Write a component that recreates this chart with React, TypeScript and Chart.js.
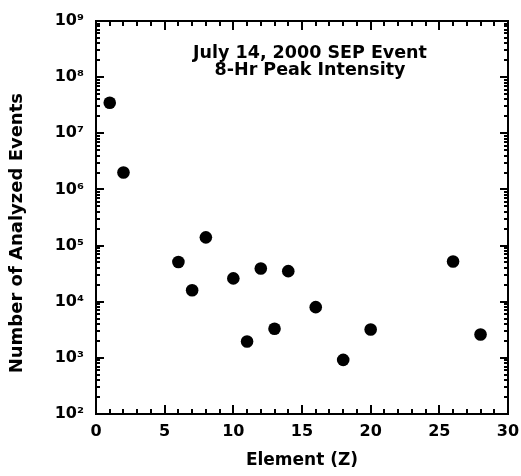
import React, { useEffect, useRef } from "react";
import { Chart, registerables } from "chart.js";

Chart.register(...registerables);

// ---- Data ----
const elementZ = [1, 2, 6, 7, 8, 10, 11, 12, 13, 14, 16, 18, 20, 26, 28];
const analyzedEvents = [
  3.5e7, 2.0e6, 5.1e4, 1.6e4, 1.4e5, 2.6e4, 1.95e3, 3.9e4, 3.3e3, 3.5e4,
  8.0e3, 9.2e2, 3.2e3, 5.2e4, 2.6e3,
];
const yDecadeExponents = [2, 3, 4, 5, 6, 7, 8, 9];
const xMajorTicks = [0, 5, 10, 15, 20, 25, 30];
const titleLines = ["July 14, 2000 SEP Event", "8-Hr Peak Intensity"];
const xTitle = "Element (Z)";
const yTitle = "Number of Analyzed Events";

const FONT = '"DejaVu Sans", "Liberation Sans", Arial, sans-serif';
const SUP: Record<string, string> = {
  "0": "\u2070", "1": "\u00B9", "2": "\u00B2", "3": "\u00B3", "4": "\u2074",
  "5": "\u2075", "6": "\u2076", "7": "\u2077", "8": "\u2078", "9": "\u2079", "-": "\u207B",
};
const supText = (n: number) => String(n).split("").map((c) => SUP[c] || c).join("");

const framePlugin = {
  id: "frameAndTicks",
  afterDraw(chart: any) {
    const { ctx, chartArea: a, scales } = chart;
    const xs = scales.x;
    const ys = scales.y;
    ctx.save();
    ctx.strokeStyle = "#000";
    ctx.lineWidth = 2;
    ctx.strokeRect(a.left, a.top, a.right - a.left, a.bottom - a.top);
    ctx.beginPath();
    for (let v = xs.min; v <= xs.max; v++) {
      const px = Math.round(xs.getPixelForValue(v));
      const len = xMajorTicks.includes(v) ? 9 : 5;
      ctx.moveTo(px, a.bottom);
      ctx.lineTo(px, a.bottom - len);
      ctx.moveTo(px, a.top);
      ctx.lineTo(px, a.top + len);
    }
    for (const e of yDecadeExponents) {
      for (let m = 1; m <= 9; m++) {
        const val = m * Math.pow(10, e);
        if (val > ys.max + 1) break;
        const py = Math.round(ys.getPixelForValue(val));
        const len = m === 1 ? 8 : 4;
        ctx.moveTo(a.left, py);
        ctx.lineTo(a.left + len, py);
        ctx.moveTo(a.right, py);
        ctx.lineTo(a.right - len, py);
      }
    }
    ctx.stroke();
    ctx.fillStyle = "#000";
    ctx.font = `bold 17.5px ${FONT}`;
    ctx.textAlign = "center";
    ctx.textBaseline = "alphabetic";
    const cx = (a.left + a.right) / 2 + 8;
    titleLines.forEach((t, i) => ctx.fillText(t, cx, a.top + 36.5 + i * 17.5));
    ctx.restore();
  },
};

export default function App() {
  const canvasRef = useRef<HTMLCanvasElement | null>(null);

  useEffect(() => {
    if (!canvasRef.current) return;
    const chart = new Chart(canvasRef.current, {
      type: "scatter",
      data: {
        datasets: [
          {
            label: "Analyzed events",
            data: elementZ.map((z, i) => ({ x: z, y: analyzedEvents[i] })),
            backgroundColor: "#000",
            borderColor: "#000",
            pointRadius: 6.3,
            pointHoverRadius: 6.3,
            borderWidth: 0,
          },
        ],
      },
      options: {
        animation: false,
        responsive: true,
        maintainAspectRatio: false,
        layout: { padding: { top: 21, right: 13, left: 0, bottom: 0 } },
        plugins: { legend: { display: false }, tooltip: { enabled: false }, title: { display: false } },
        scales: {
          x: {
            type: "linear",
            min: 0,
            max: 30,
            grid: { display: false, drawTicks: false },
            border: { display: false },
            ticks: {
              stepSize: 5,
              padding: 8,
              color: "#000",
              font: { family: FONT, weight: "bold", size: 16 },
              callback: (v: any) => (xMajorTicks.includes(Number(v)) ? String(v) : ""),
            },
            title: {
              display: true,
              text: xTitle,
              color: "#000",
              font: { family: FONT, weight: "bold", size: 17 },
              padding: { top: 0, bottom: 5 },
            },
            afterFit: (s: any) => {
              s.height = 62;
              s.paddingLeft = 0;
              s.paddingRight = 0;
            },
          },
          y: {
            type: "logarithmic",
            min: 1e2,
            max: 1e9,
            grid: { display: false, drawTicks: false },
            border: { display: false },
            ticks: {
              autoSkip: false,
              padding: 12,
              color: "#000",
              font: { family: FONT, weight: "bold", size: 16 },
              callback: (v: any) => {
                const lg = Math.log10(Number(v));
                const r = Math.round(lg);
                if (Math.abs(lg - r) < 1e-9 && yDecadeExponents.includes(r)) return "10" + supText(r);
                return "";
              },
            },
            title: {
              display: true,
              text: yTitle + "     ",
              color: "#000",
              font: { family: FONT, weight: "bold", size: 18 },
              padding: { top: 7, bottom: 0 },
            },
            afterFit: (s: any) => {
              s.width = 96;
              s.paddingTop = 0;
              s.paddingBottom = 0;
            },
          },
        },
      },
      plugins: [framePlugin],
    });
    return () => chart.destroy();
  }, []);

  return (
    <div style={{ position: "fixed", left: 0, top: 0, width: 521, height: 476, background: "#fff" }}>
      <canvas ref={canvasRef} />
    </div>
  );
}
